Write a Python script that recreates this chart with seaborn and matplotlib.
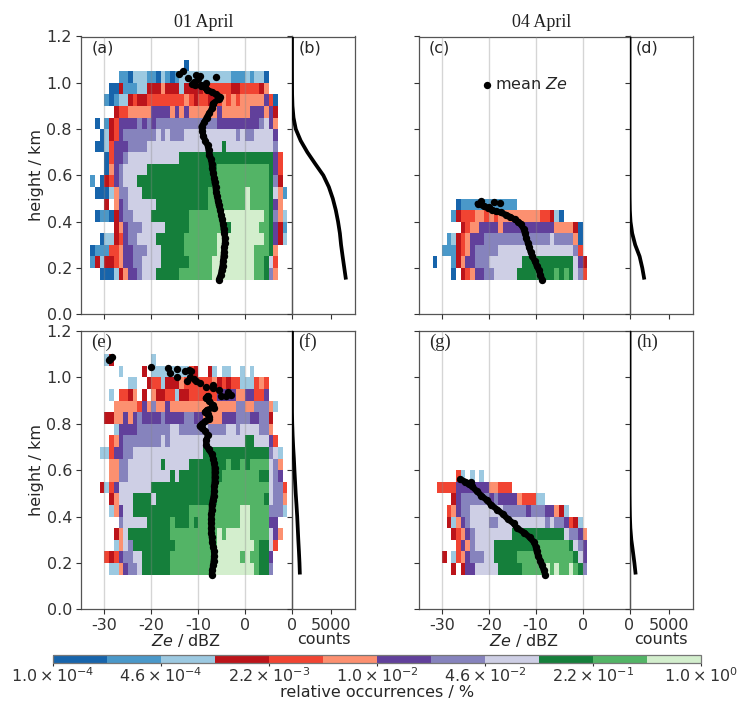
import re
import numpy as np
import matplotlib
matplotlib.use("Agg")
import matplotlib.pyplot as plt
from matplotlib.colors import ListedColormap, LogNorm
import seaborn as sns

# ====== DATA ======
# heatmap rows, top to bottom, lowest row starts at 0.15 km, bins 1 dBZ x 0.05 km
# run length text: a-l = occurrence class (a lowest .. l highest), "." = no data
rows_a = [
    "22.a",
    "8.2ba3c2bacbab11c3bcb2ca",
    "6.2ad3b2c3df3dc4d6e2d4edf",
    "5.bab2cde2d8efed2e2defefe5fgea",
    "7.d2e5f4gfgfg6fg6f3gfgd",
    "3.a.bde4ghghg13h9ghigf",
    "4.acdeg7hihi3h11ihi2h4ig",
    "3.2ace3g4h16ij10ih",
    "5.ae2gh11i20jge",
    "5.afgh5i15j11kjge",
    "2.b.adegh3i16j12kjhd",
    "3.3acf2h3i14j8kl4kjifb",
    "5.d.fgh6i11j8kl4kjgf",
    "3.a2badg2h4i8j7k9lkjhfc",
    "7.dfg3h5i5j8kj6l2kjgdb",
    "4.a2cdeg2h4i6j7k10lkjgdc",
    "2.a3b2ef2g3h3i5j7k8l3kjf",
    "2.bdc2def2g2h4i6j5k9l2kjie",
    "4.3acdf2gh3i5j7k9l2kjhf",
]
rows_c = [
    "8.a12b",
    "7.bd3e2fefe9f2edca",
    "9.de2f4gf11g4fda",
    "6.bcdef3g14hi4hfa",
    "5.3bdefg5h16ihe",
    "3.a3.bdf2g3h7i11jigd",
    "7.a.def2g2h5i8jkjkjihe",
]
rows_e = [
    "5.cd8.c",
    "8.c4.d.8ced2.dc.2c2.c.c",
    "10.2c2.d2ec3df6efded2e3cefe",
    "6.c.2edf.d.f2d2ec2d6e4g2f2g2eg",
    "7.5fegfh2fg14f2h2f3hfc",
    "5.2d2fgfgh4gh4g2h2g4f3g3h2g2hd",
    "7.c4g7h2i5hi4h2ih4i2hf",
    "6.efg8hih16i2j3ige",
    "4.2ce2g2h15i14jhic",
    "6.2f2h7ij5i8jk2jkj4kihf",
    "6.2f2h9iji9j8k2jihg",
    "4.dceg7i14j11ki2he",
    "6.df3i4ji13j10kji2hf",
    "6.cfg2i12j11k2l4k3hc",
    "8.h5i5jk3jkj9k2l4k2g",
    "7.dfi9j10klk5l4kigf",
    "7.cfih9j9k8lk2jie",
    "5.edeg2h2i6j9k6lkl2k2jg",
    "6.2cfg2hi6j9k9lk2jh",
]
rows_g = [
    "8.ec.c.c",
    "4.4e7g2f3e",
    "7.dg6hgh4gf3e2c",
    "6.efg2h7i5hg3h2gfdc",
    "6.dcfgh4i2h10ihi2hgedc",
    "7.defgh8i11ji2hgf",
    "8.egfh4i9j7kjihg",
    "5.d.cefg3h2i5j12kjig",
    "7.d.d2g5i5j5klkl2klkjh",
]

# mean Ze profiles, the first n_* points form the continuous part of the profile
ze_a = [-5.6, -5.2, -5.0, -4.8, -4.7, -4.6, -4.5, -4.4, -4.3, -4.3, -4.4, -4.6, -4.7, -4.9, -5.1, -5.3, -5.6, -5.8,
        -6.0, -6.2, -6.3, -6.5, -6.6, -6.8, -7.0, -7.1, -7.3, -7.6, -7.8, -8.0, -8.5, -8.9, -9.1, -9.3, -8.7, -8.2,
        -7.6, -7.0, -6.9, -5.6, -5.4, -6.3, -7.0, -8.2, -8.6, -9.4, -8.4, -10.7, -9.5, -11.4, -10.4, -9.7, -12.2,
        -6.2, -13.2, -14.1, -10.0, -10.8]
h_a = [.15, .17, .19, .21, .23, .25, .27, .29, .31, .33, .35, .37, .39, .41, .43, .45, .47, .49,
       .51, .53, .55, .57, .59, .61, .63, .65, .67, .69, .71, .73, .75, .77, .79, .81, .83, .85,
       .87, .89, .91, .93, .94, .95, .96, .97, .98, .99, 1.0, .99, .985, .995, 1.035, 1.03, 1.02,
       1.026, 1.05, 1.036, 1.015, 1.005]
n_a = 45
ze_c = [-8.6, -9.0, -9.3, -9.8, -10.2, -10.7, -11.1, -11.4, -11.7, -12.0, -12.3, -12.6, -13.2, -13.7, -14.5, -15.4,
        -16.4, -17.5, -18.5, -19.3, -20.2, -21.1, -22.4, -21.6, -19.0, -17.6, -20.0]
h_c = [.15, .17, .19, .21, .23, .25, .27, .29, .31, .33, .35, .37, .39, .40, .41, .42,
       .43, .44, .445, .45, .46, .467, .478, .49, .483, .48, .464]
n_c = 23
ze_e = [-7.1, -7.0, -6.8, -6.7, -6.6, -6.6, -6.8, -7.0, -7.1, -7.2, -7.2, -7.2, -7.2, -7.2, -7.1, -7.1, -6.9, -6.7,
        -6.6, -6.6, -6.5, -6.5, -6.5, -6.5, -6.6, -6.8, -7.1, -7.8, -8.3, -8.3, -7.9, -8.6, -9.1, -9.7, -9.2, -8.5,
        -7.8, -7.6, -8.0, -8.6, -8.1, -6.6, -6.9, -7.7, -8.4, -8.0, -3.0, -4.0, -5.1, -3.6, -5.5, -6.9, -8.3, -6.9,
        -9.7, -10.4, -11.0, -12.5, -11.7, -11.5, -12.9, -12.0, -14.6, -14.6, -16.4, -16.1, -20.1, -28.3, -29.1, -28.8]
h_e = [.15, .17, .19, .21, .23, .25, .27, .29, .31, .33, .35, .37, .39, .41, .43, .45, .47, .49,
       .51, .53, .55, .57, .59, .61, .63, .65, .67, .69, .71, .73, .75, .77, .78, .79, .80, .81,
       .82, .83, .84, .85, .86, .87, .88, .90, .91, .92, .925, .92, .92, .935, .945, .955, .96, .968,
       .974, .985, .993, .986, 1.0, 1.028, 1.028, 1.03, 1.036, 1.003, 1.04, 1.02, 1.046, 1.086, 1.076, 1.08]
n_e = 46
ze_g = [-8.0, -8.3, -8.7, -9.0, -9.5, -9.8, -10.0, -10.4, -11.3, -12.4, -14.0, -14.7, -16.0, -17.0, -18.2, -19.5,
        -20.4, -21.6, -22.6, -23.6, -24.2, -25.0, -26.1, -24.5, -23.8]
h_g = [.15, .17, .19, .21, .23, .25, .27, .29, .31, .33, .35, .37, .39, .41, .43, .45,
       .47, .49, .51, .53, .54, .55, .56, .545, .55]
n_g = 23

# counts per height
h_counts = [.15, .20, .25, .30, .35, .40, .45, .50, .55, .60, .65, .70, .75, .80, .85, .90, .95, 1.0, 1.05, 1.2]
counts_b = [6850, 6640, 6430, 6230, 6080, 5850, 5560, 5180, 4680, 3980, 2950, 1950, 1100, 480, 190, 60, 15, 5, 0, 0]
counts_d = [1880, 1620, 1280, 720, 340, 130, 40, 10, 0, 0, 0, 0, 0, 0, 0, 0, 0, 0, 0, 0]
counts_f = [1000, 950, 880, 800, 730, 660, 570, 470, 390, 310, 240, 150, 80, 30, 0, 0, 0, 0, 0, 0]
counts_h = [780, 620, 430, 230, 110, 50, 20, 5, 0, 0, 0, 0, 0, 0, 0, 0, 0, 0, 0, 0]

titles = ["01 April", "04 April"]
cbar_exp = [-4, -10 / 3, -8 / 3, -2, -4 / 3, -2 / 3, 0]
cbar_labels = [r"$1.0 \times 10^{-4}$", r"$4.6 \times 10^{-4}$", r"$2.2 \times 10^{-3}$", r"$1.0 \times 10^{-2}$",
               r"$4.6 \times 10^{-2}$", r"$2.2 \times 10^{-1}$", r"$1.0 \times 10^{0}$"]

# ====== STYLE ======
W, H = 739, 701
FS = 11.5
sns.set_style("ticks", {"axes.edgecolor": "#555555", "xtick.color": "#333333", "ytick.color": "#333333"})
plt.rcParams.update({"font.size": FS, "axes.linewidth": 0.9, "mathtext.default": "regular",
                     "axes.unicode_minus": False})
plt.rcParams["font.family"] = "DejaVu Sans"

colors = []
for name, steps in [("Blues", (0.8, 0.6, 0.38)), ("Reds", (0.8, 0.6, 0.38)),
                    ("Purples", (0.8, 0.6, 0.3)), ("Greens", (0.8, 0.58, 0.2))]:
    cm = plt.get_cmap(name)
    colors += [cm(s) for s in steps]
cmap = ListedColormap(colors)
norm = LogNorm(1e-4, 1)


def to_grid(rows):
    # expand the run length text into occurrences, lowest row first
    grid = np.full((len(rows), 46), np.nan)
    for r, text in enumerate(rows[::-1]):
        col = 0
        for n, c in re.findall(r"(\d*)(\D)", text):
            n = int(n) if n else 1
            if c != ".":
                grid[r, col:col + n] = 10 ** (-4 + ("abcdefghijkl".index(c) + 0.5) / 3)
            col += n
    return grid


def px_axes(fig, x0, x1, y0, y1):
    return fig.add_axes([x0 / W, 1 - y1 / H, (x1 - x0) / W, (y1 - y0) / H])


fig = plt.figure(figsize=(W / 100, H / 100), dpi=100)

xgrid = np.arange(-35, 12)
panels = [
    (81, 292, 355, 36.5, 314.3, rows_a, ze_a, h_a, n_a, counts_b, "(a)", "(b)", "DejaVu Sans", FS),
    (418.5, 629.5, 692.7, 36.5, 314.3, rows_c, ze_c, h_c, n_c, counts_d, "(c)", "(d)", "DejaVu Sans", FS),
    (81, 292, 355, 331, 609.3, rows_e, ze_e, h_e, n_e, counts_f, "(e)", "(f)", "Liberation Serif", 13.5),
    (418.5, 629.5, 692.7, 331, 609.3, rows_g, ze_g, h_g, n_g, counts_h, "(g)", "(h)", "Liberation Serif", 13.5),
]

for n, (x0, xm, x1, y0, y1, rows, ze, h, k, counts, lab1, lab2, fam, lab_fs) in enumerate(panels):
    ax = px_axes(fig, x0, xm, y0, y1)
    grid = to_grid(rows)
    ygrid = 0.15 + 0.05 * np.arange(grid.shape[0] + 1)
    mesh = ax.pcolormesh(xgrid, ygrid, grid, cmap=cmap, norm=norm, zorder=1)
    ax.grid(axis="x", color="#888888", alpha=0.35, lw=1, zorder=2)
    ax.set_axisbelow(False)
    sns.lineplot(x=ze[:k], y=h[:k], ax=ax, color="black", lw=4.4, sort=False, estimator=None, zorder=5)
    sns.scatterplot(x=ze, y=h, ax=ax, color="black", s=28, linewidth=0, zorder=5, clip_on=False)
    ax.set_xlim(-35, 10)
    ax.set_ylim(0, 1.2)
    ax.set_xticks([-30, -20, -10, 0])
    ax.set_yticks(np.arange(0, 1.21, 0.2))
    ax.tick_params(length=3.5, width=0.8, labelsize=FS, pad=3)
    ax.text(0.05, 0.96, lab1, transform=ax.transAxes, family=fam, fontsize=lab_fs, va="center", zorder=6)

    side = px_axes(fig, xm, x1, y0, y1)
    sns.lineplot(x=counts, y=h_counts, ax=side, color="black", lw=2.7, orient="y", estimator=None,
                 solid_capstyle="butt", zorder=5)
    side.set_xlim(0, 8000)
    side.set_ylim(0, 1.2)
    side.set_xticks([0, 5000])
    side.set_yticks(np.arange(0, 1.21, 0.2))
    side.tick_params(length=3.5, width=0.8, labelsize=FS, pad=3)
    side.tick_params(axis="y", labelleft=False)
    side.patch.set_alpha(0)
    side.text(0.1, 0.96, lab2, transform=side.transAxes, family=fam, fontsize=lab_fs, va="center")

    if n < 2:
        ax.tick_params(axis="x", labelbottom=False)
        side.tick_params(axis="x", labelbottom=False)
        ax.set_title(titles[n], family="Liberation Serif", fontsize=13, x=0.582, pad=7, color="#222222")
    else:
        ax.set_xlabel(r"$\mathit{Ze}$ / dBZ", fontsize=FS, labelpad=-1)
        side.set_xlabel("counts", fontsize=FS, labelpad=-1)
    if n % 2 == 0:
        ax.set_ylabel("height / km", fontsize=FS, labelpad=2)
    else:
        ax.tick_params(axis="y", labelleft=False)
    if n == 1:
        # legend marker for the mean profile
        ax.scatter([], [], color="black", s=28, linewidth=0, label=r"mean $\mathit{Ze}$")
        ax.legend(frameon=False, fontsize=FS, loc="center left", bbox_to_anchor=(0.288, 0.828),
                  handlelength=1.0, handletextpad=0.0, borderpad=0, borderaxespad=0)

cax = px_axes(fig, 53, 701, 655, 663)
cb = fig.colorbar(mesh, cax=cax, orientation="horizontal")
cb.set_ticks([10.0 ** e for e in cbar_exp], labels=cbar_labels)
cb.ax.minorticks_off()
cb.ax.tick_params(labelsize=FS, length=2.5, width=0.8, pad=0)
cb.set_label("relative occurrences / %", fontsize=FS, labelpad=0)
cb.outline.set_edgecolor("#777777")

fig.savefig("out.png", dpi=100)
